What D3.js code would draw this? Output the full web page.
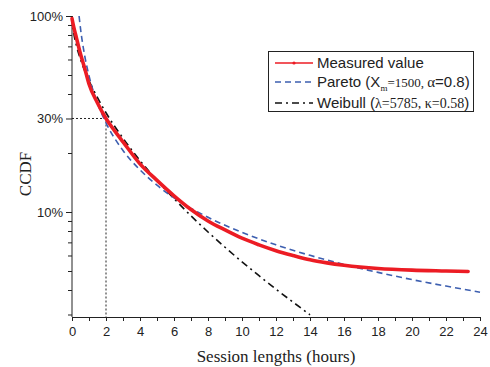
<!DOCTYPE html>
<html lang="en">
<head>
    <meta charset="UTF-8">
    <script src="https://d3js.org/d3.v7.min.js"></script>
    <title>CCDF</title>
    <style>
        body { margin: 0; background: #fff; }
        .tick text { font-family: "Liberation Sans", Arial, sans-serif; font-size: 13px; fill: #222; }
        .domain, .tick line { stroke: #222; stroke-width: 1; }
        .serif { font-family: "Liberation Serif", "Times New Roman", serif; }
        .sans { font-family: "Liberation Sans", Arial, sans-serif; }
    </style>
</head>
<body>
<div id="container"></div>
<script>
    // measured CCDF (hours, fraction)
    var measuredX = [0, 0.1, 0.25, 0.5, 0.75, 1, 1.5, 2, 2.5, 3, 4, 5, 6, 7, 8, 9, 10, 11, 12, 13, 14, 15, 16, 18, 20, 22, 23.3];
    var measuredY = [0.97, 0.88, 0.78, 0.64, 0.54, 0.45, 0.36, 0.30, 0.26, 0.228, 0.176, 0.145, 0.121, 0.103, 0.09, 0.081, 0.0735, 0.068, 0.0635, 0.06, 0.057, 0.055, 0.0535, 0.0515, 0.0505, 0.05, 0.0497];

    // Pareto fit
    var paretoX = [0.4167, 0.5, 0.75, 1, 1.5, 2, 3, 4, 5, 6, 8, 10, 12, 14, 16, 18, 20, 22, 24];
    var paretoY = [1.0, 0.864, 0.625, 0.496, 0.359, 0.285, 0.206, 0.164, 0.137, 0.118, 0.094, 0.0787, 0.068, 0.0601, 0.054, 0.0492, 0.0452, 0.0419, 0.039];

    // Weibull fit
    var weibullX = [0, 0.02, 0.1, 0.25, 0.5, 1, 1.5, 2, 3, 4, 5, 6, 7, 8, 9, 10, 11, 12, 13, 14];
    var weibullY = [1.0, 0.924, 0.819, 0.712, 0.602, 0.468, 0.383, 0.321, 0.238, 0.183, 0.145, 0.117, 0.0956, 0.0791, 0.0661, 0.0557, 0.0473, 0.0404, 0.0347, 0.0299];

    var xTicks = d3.range(0, 25, 1);
    var yMajor = [1, 0.3, 0.1];
    var yMinor = [0.9, 0.8, 0.7, 0.6, 0.5, 0.4, 0.2, 0.09, 0.08, 0.07, 0.06, 0.05, 0.04, 0.03];
    var refX = 2, refY = 0.3;

    var width = 490, height = 367;
    var pLeft = 72, pRight = 480, pTop = 16, pBottom = 314.5, xAxisY = 317;

    var svg = d3.select("#container").append("svg")
        .attr("width", width).attr("height", height);

    var x = d3.scaleLinear().domain([0, 24]).range([pLeft, pRight]);
    var y = d3.scaleLog().domain([0.03, 1]).range([pBottom, pTop]);

    // x axis
    var gx = svg.append("g").attr("transform", `translate(0,${xAxisY})`)
        .call(d3.axisBottom(x).tickValues(xTicks).tickSizeOuter(0).tickSize(4)
            .tickFormat(function(d){ return d % 2 === 0 ? d : ""; }));
    gx.selectAll(".tick text").attr("dy", "0.9em");

    // y axis: minor then major
    svg.append("g").attr("transform", `translate(${pLeft},0)`)
        .call(d3.axisLeft(y).tickValues(yMinor).tickSize(4).tickFormat(""))
        .select(".domain").remove();
    var gy = svg.append("g").attr("transform", `translate(${pLeft},0)`)
        .call(d3.axisLeft(y).tickValues(yMajor).tickSize(6).tickSizeOuter(0)
            .tickFormat(function(d){ return Math.round(d * 100) + "%"; }));
    gy.select(".domain").attr("d", `M0,${pTop}V${xAxisY}`);
    gy.selectAll(".tick text").attr("x", -9);

    // dotted reference lines
    svg.append("path")
        .attr("d", `M${x(0)},${y(refY)}H${x(refX)}V${xAxisY}`)
        .attr("fill", "none").attr("stroke", "#222").attr("stroke-width", 1)
        .attr("stroke-dasharray", "2,2");

    function line() {
        return d3.line().x(function(d){ return x(d[0]); }).y(function(d){ return y(d[1]); })
            .curve(d3.curveMonotoneX);
    }

    svg.append("path")
        .datum(d3.zip(weibullX, weibullY))
        .attr("d", line())
        .attr("fill", "none").attr("stroke", "#111").attr("stroke-width", 1.6)
        .attr("stroke-dasharray", "7,4,2,4");

    svg.append("path")
        .datum(d3.zip(paretoX, paretoY))
        .attr("d", line())
        .attr("fill", "none").attr("stroke", "#3d5fb0").attr("stroke-width", 1.6)
        .attr("stroke-dasharray", "6,4");

    svg.append("path")
        .datum(d3.zip(measuredX, measuredY))
        .attr("d", line())
        .attr("fill", "none").attr("stroke", "#ec1c24").attr("stroke-width", 3.6)
        .attr("stroke-linecap", "round");

    // axis titles
    svg.append("text").attr("class", "serif")
        .attr("x", (pLeft + pRight) / 2).attr("y", 362)
        .attr("text-anchor", "middle").attr("font-size", 17).attr("fill", "#222")
        .text("Session lengths (hours)");
    svg.append("text").attr("class", "serif")
        .attr("transform", "translate(31,174) rotate(-90)")
        .attr("text-anchor", "middle").attr("font-size", 17).attr("fill", "#222")
        .text("CCDF");

    // legend
    var lg = svg.append("g");
    lg.append("rect").attr("x", 268.5).attr("y", 51.5).attr("width", 205).attr("height", 60)
        .attr("fill", "#fff").attr("stroke", "#222").attr("stroke-width", 1);

    var rows = [63, 82, 103];
    lg.append("line").attr("x1", 275).attr("x2", 313).attr("y1", rows[0]).attr("y2", rows[0])
        .attr("stroke", "#ec1c24").attr("stroke-width", 1.5);
    lg.append("circle").attr("cx", 294).attr("cy", rows[0]).attr("r", 1.6).attr("fill", "#ec1c24");
    lg.append("line").attr("x1", 275).attr("x2", 313).attr("y1", rows[1]).attr("y2", rows[1])
        .attr("stroke", "#3d5fb0").attr("stroke-width", 1.6).attr("stroke-dasharray", "6,4");
    lg.append("line").attr("x1", 275).attr("x2", 313).attr("y1", rows[2]).attr("y2", rows[2])
        .attr("stroke", "#111").attr("stroke-width", 1.6).attr("stroke-dasharray", "7,4,2,4");

    lg.append("text").attr("class", "sans").attr("x", 317).attr("y", rows[0] + 5)
        .attr("font-size", 15).attr("fill", "#222").text("Measured value");

    var t2 = lg.append("text").attr("class", "sans").attr("x", 317).attr("y", rows[1] + 5)
        .attr("font-size", 15).attr("fill", "#222");
    t2.append("tspan").text("Pareto (X");
    t2.append("tspan").attr("class", "serif").attr("font-size", 9).attr("dy", 4).text("m");
    t2.append("tspan").attr("class", "serif").attr("font-size", 13).attr("dy", -4).text("=1500, ");
    t2.append("tspan").attr("class", "serif").attr("font-size", 15).text("α");
    t2.append("tspan").text("=0.8)");

    var t3 = lg.append("text").attr("class", "sans").attr("x", 317).attr("y", rows[2] + 5)
        .attr("font-size", 15).attr("fill", "#222");
    t3.append("tspan").text("Weibull (");
    t3.append("tspan").attr("class", "serif").attr("font-size", 14).text("λ=5785, κ=0.58");
    t3.append("tspan").text(")");
</script>
</body>
</html>
